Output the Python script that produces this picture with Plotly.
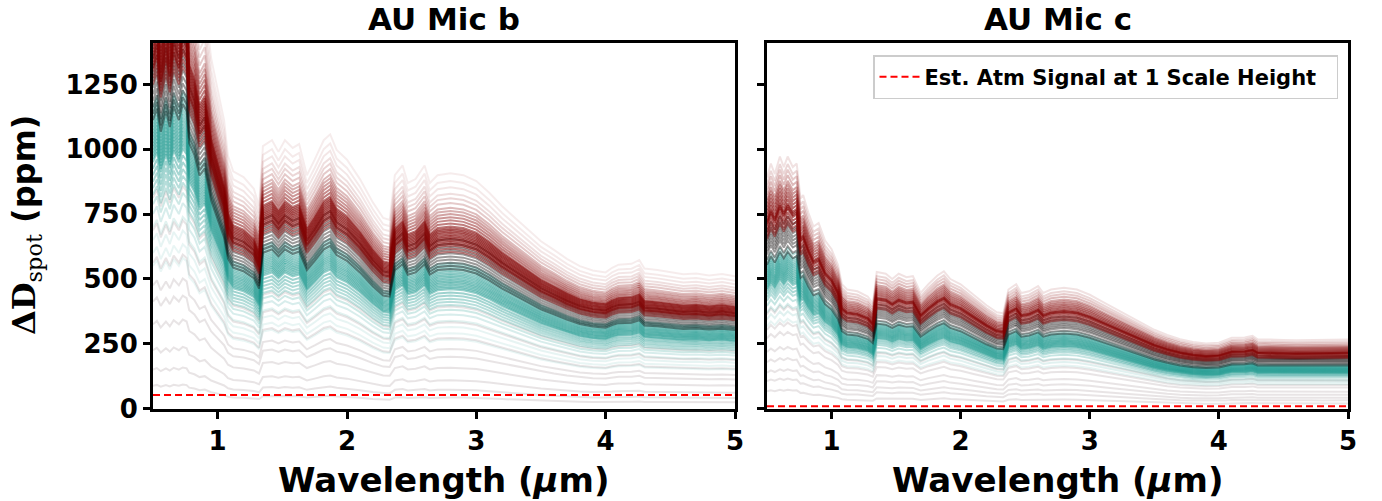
import math
import plotly.graph_objects as go

# ---------------- data ----------------
WAVELENGTH = [0.50, 0.53, 0.56, 0.60, 0.63, 0.66, 0.70, 0.73, 0.76, 0.78,
              0.82, 0.86, 0.90, 0.95, 1.00, 1.05, 1.08, 1.12, 1.20, 1.28,
              1.32, 1.35, 1.42, 1.47, 1.52, 1.58, 1.63, 1.69, 1.75, 1.82,
              1.87, 1.92, 2.00, 2.10, 2.20, 2.28, 2.33, 2.37, 2.43, 2.47,
              2.53, 2.60, 2.64, 2.70, 2.80, 2.90, 3.00, 3.10, 3.20, 3.30,
              3.40, 3.50, 3.60, 3.70, 3.80, 3.90, 4.00, 4.05, 4.10, 4.20,
              4.26, 4.30, 4.40, 4.50, 4.60, 4.70, 4.80, 4.90, 5.00]

# typical (band-centre) spectrum, ppm
REF_B = [1250, 1300, 1200, 1290, 1220, 1310, 1250, 1320, 1290, 1150,
         1100, 1010, 1040, 900, 820, 740, 650, 610, 595, 565,
         520, 675, 690, 660, 690, 670, 680, 600, 640, 690,
         705, 665, 640, 590, 530, 490, 485, 600, 625, 580,
         590, 625, 580, 600, 605, 600, 585, 555, 520, 490,
         460, 430, 408, 385, 366, 355, 350, 362, 370, 372,
         382, 360, 356, 350, 345, 347, 342, 346, 340]

REF_C = [660, 700, 670, 720, 690, 720, 690, 700, 600, 610,
         560, 520, 530, 480, 455, 410, 355, 340, 335, 320,
         300, 390, 385, 370, 385, 375, 378, 330, 355, 380,
         392, 370, 355, 325, 295, 275, 272, 340, 355, 330,
         335, 350, 330, 340, 345, 340, 325, 305, 285, 265,
         245, 225, 210, 198, 190, 186, 188, 195, 202, 203,
         208, 198, 198, 196, 195, 196, 195, 197, 197]

# relative amplitude of each plotted spectrum (relative to the reference)
TEAL_B = [0.44, 0.48, 0.52, 0.56, 0.60, 0.63, 0.66, 0.68, 0.70, 0.72,
          0.74, 0.76, 0.77, 0.78, 0.79, 0.80, 0.81, 0.82, 0.83, 0.84,
          0.85, 0.86, 0.87, 0.88, 0.89, 0.90, 0.91, 0.92, 0.93]
DARK_B = [0.89, 0.91, 0.93, 0.95, 0.97, 0.99, 1.01, 1.03, 1.05, 1.08]
RED_B = [1.00, 1.02, 1.04, 1.05, 1.06, 1.07, 1.08, 1.09, 1.10, 1.11,
         1.12, 1.13, 1.14, 1.15, 1.16, 1.18, 1.20, 1.22, 1.24, 1.26,
         1.28, 1.31, 1.34, 1.37, 1.41, 1.45, 1.50]
GREY_B = [0.07, 0.12, 0.18, 0.26, 0.33, 0.38, 0.45, 0.55, 0.65]

TEAL_C = [0.48, 0.52, 0.56, 0.60, 0.63, 0.65, 0.67, 0.69, 0.70, 0.71,
          0.72, 0.73, 0.74, 0.75, 0.76, 0.77, 0.78, 0.79, 0.80, 0.81,
          0.82, 0.83, 0.84, 0.86]
DARK_C = [0.84, 0.87, 0.90, 0.92, 0.94, 0.96, 0.98, 1.00, 1.03]
RED_C = [0.99, 1.01, 1.03, 1.05, 1.07, 1.08, 1.09, 1.10, 1.12, 1.14,
         1.16, 1.18, 1.20, 1.22, 1.25, 1.28, 1.31, 1.35]
GREY_C = [0.10, 0.16, 0.21, 0.27, 0.33, 0.41, 0.46, 0.55]

ATM_SIGNAL_B = 52
ATM_SIGNAL_C = 9

X_TICKS = [1, 2, 3, 4, 5]
Y_TICKS = [0, 250, 500, 750, 1000, 1250]

TITLES = ["AU Mic b", "AU Mic c"]
X_LABEL = "Wavelength (<i>μ</i>m)"
LEGEND_LABEL = "Est. Atm Signal at 1 Scale Height"

# ---------------- styling ----------------
FONT = "DejaVu Sans"
TEAL_RGB = (35, 155, 145)
DARK_RGB = (20, 15, 15)
RED_RGB = (130, 0, 0)
GREY_RGB = (110, 85, 95)
W, H = 1382, 501

fig = go.Figure()


def rgba(rgb, a):
    return "rgba(%d,%d,%d,%.3f)" % (rgb[0], rgb[1], rgb[2], a)


def add_family(ref, scales, rgb, centre, width, lo, hi, xa, ya):
    for s in scales:
        a = lo + (hi - lo) * math.exp(-((s - centre) / width) ** 2)
        fig.add_trace(go.Scatter(
            x=WAVELENGTH, y=[v * s for v in ref], mode="lines",
            line=dict(color=rgba(rgb, a), width=2),
            xaxis=xa, yaxis=ya, showlegend=False, hoverinfo="skip"))


# panel b
add_family(REF_B, GREY_B, GREY_RGB, 0.5, 1.0, 0.16, 0.16, "x", "y")
add_family(REF_B, TEAL_B, TEAL_RGB, 0.80, 0.16, 0.09, 0.5, "x", "y")
add_family(REF_B, DARK_B, DARK_RGB, 0.99, 1.0, 0.42, 0.42, "x", "y")
add_family(REF_B, RED_B, RED_RGB, 1.10, 0.18, 0.07, 0.6, "x", "y")
# panel c
add_family(REF_C, GREY_C, GREY_RGB, 0.5, 1.0, 0.16, 0.16, "x2", "y2")
add_family(REF_C, TEAL_C, TEAL_RGB, 0.74, 0.15, 0.09, 0.5, "x2", "y2")
add_family(REF_C, DARK_C, DARK_RGB, 0.93, 1.0, 0.42, 0.42, "x2", "y2")
add_family(REF_C, RED_C, RED_RGB, 1.08, 0.17, 0.07, 0.6, "x2", "y2")

fig.add_trace(go.Scatter(x=[WAVELENGTH[0], WAVELENGTH[-1]],
                         y=[ATM_SIGNAL_B, ATM_SIGNAL_B], mode="lines",
                         line=dict(color="red", width=2, dash="7px,4px"),
                         xaxis="x", yaxis="y", showlegend=False,
                         hoverinfo="skip"))
fig.add_trace(go.Scatter(x=[WAVELENGTH[0], WAVELENGTH[-1]],
                         y=[ATM_SIGNAL_C, ATM_SIGNAL_C], mode="lines",
                         line=dict(color="red", width=2, dash="7px,4px"),
                         xaxis="x2", yaxis="y2",
                         name=LEGEND_LABEL + "\u00a0\u00a0",
                         showlegend=True, hoverinfo="skip"))

tickfont = dict(family=FONT, size=26, color="black", weight="bold")
axis_common = dict(showline=True, linewidth=3, linecolor="black",
                   mirror=True, ticks="outside", ticklen=7, tickwidth=2.5,
                   tickcolor="black", showgrid=False, zeroline=False,
                   automargin=False, tickfont=tickfont)

XD1 = [153 / W, 735 / W]
XD2 = [767 / W, 1348 / W]
YD = [(H - 408.5) / H, (H - 43) / H]

fig.update_layout(
    width=W, height=H, autosize=False,
    margin=dict(l=0, r=0, t=0, b=0, pad=0, autoexpand=False),
    paper_bgcolor="white", plot_bgcolor="white",
    xaxis=dict(domain=XD1, range=[0.5, 5], tickvals=X_TICKS, anchor="y",
               **axis_common),
    yaxis=dict(domain=YD, range=[0, 1410], tickvals=Y_TICKS, anchor="x",
               **axis_common),
    xaxis2=dict(domain=XD2, range=[0.5, 5], tickvals=X_TICKS, anchor="y2",
                **axis_common),
    yaxis2=dict(domain=YD, range=[0, 1410], tickvals=Y_TICKS, anchor="x2",
                showticklabels=False, **axis_common),
    legend=dict(x=1338 / W, xanchor="right", y=(H - 55) / H,
                yanchor="top", bgcolor="white", bordercolor="#cccccc",
                borderwidth=1.5, itemwidth=40,
                font=dict(family=FONT, size=21, color="black",
                          weight="bold")),
    showlegend=True,
)

title_font = dict(family=FONT, size=31, color="black", weight="bold")
for i, t in enumerate(TITLES):
    xd = XD1 if i == 0 else XD2
    fig.add_annotation(text=t, x=(xd[0] + xd[1]) / 2, y=(H - 19) / H,
                       xref="paper", yref="paper", showarrow=False,
                       xanchor="center", yanchor="middle", font=title_font)
    fig.add_annotation(text=X_LABEL, x=(xd[0] + xd[1]) / 2,
                       y=(H - 480) / H, xref="paper", yref="paper",
                       showarrow=False, xanchor="center", yanchor="middle",
                       font=dict(family=FONT, size=34, color="black",
                                 weight="bold"))

fig.add_annotation(
    text=("<span style=\"font-family:'DejaVu Serif'\">ΔD</span>"
          "<sub><span style=\"font-family:'DejaVu Serif';font-weight:normal\">spot</span></sub>"
          " (ppm)"),
    x=26 / W, y=(H - 225) / H, xref="paper", yref="paper",
    showarrow=False, xanchor="center", yanchor="middle", textangle=-90,
    font=dict(family=FONT, size=32, color="black", weight="bold"))

fig.write_html("out.html")
